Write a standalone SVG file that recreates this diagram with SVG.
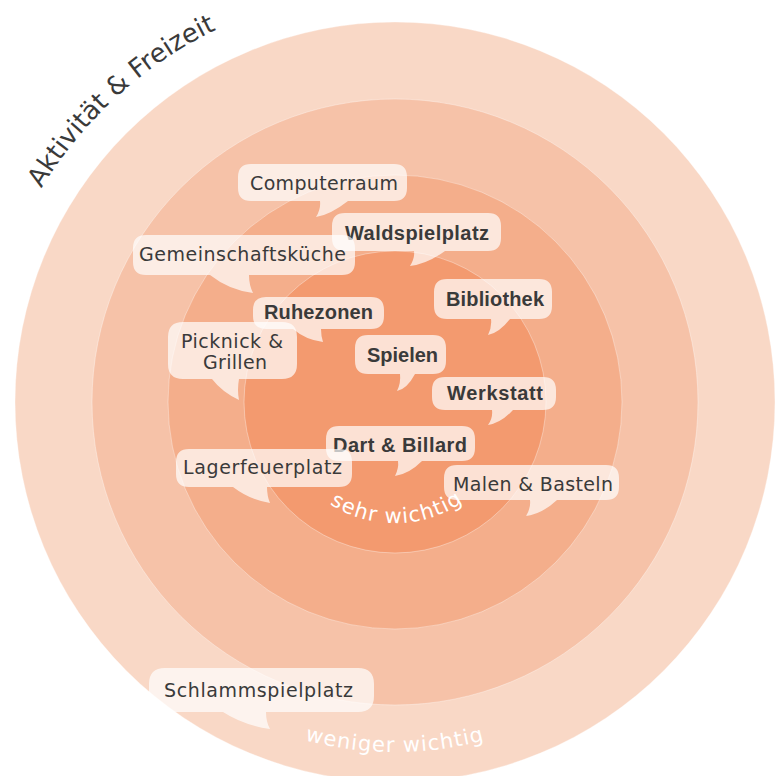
<svg xmlns="http://www.w3.org/2000/svg" width="784" height="776" viewBox="0 0 784 776">
<style>
.ring{stroke:#ffffff;stroke-opacity:0.35;stroke-width:1}
.bub{fill:#ffffff;fill-opacity:0.7}
.lbl{font-family:"DejaVu Sans","Liberation Sans",sans-serif;font-size:19px;fill:#3a3a3a;text-anchor:middle}
.b{font-family:"Liberation Sans","DejaVu Sans",sans-serif;font-weight:bold;font-size:20px}
.arc{font-family:"DejaVu Sans","Liberation Sans",sans-serif;fill:#ffffff;font-size:21px;text-anchor:middle}
</style>
<defs>
<path id="arcTitle" d="M -11.7,330.3 A 413 413 0 0 1 351.8,-8.7"/>
<path id="arcSehr" d="M 275.8,423 A 121 121 0 0 0 514.2,423"/>
<path id="arcWeniger" d="M 91.9,577 A 350 350 0 0 0 698.1,577"/>
</defs>
<rect width="784" height="776" fill="#ffffff"/>
<g id="rings">
<circle class="ring" cx="395" cy="402" r="380" fill="#F9D8C6"/>
<circle class="ring" cx="395" cy="402" r="303" fill="#F6C2A8"/>
<circle class="ring" cx="395" cy="402" r="227" fill="#F4AE8B"/>
<circle class="ring" cx="395" cy="402" r="151" fill="#F39A6F"/>
</g>
<g id="title">
<text font-family="DejaVu Sans, Liberation Sans, sans-serif" font-size="26" fill="#3a3a3a" text-anchor="middle"><textPath href="#arcTitle" startOffset="51%">Aktivität &amp; Freizeit</textPath></text>
</g>
<g id="scale-labels">
<text class="arc" letter-spacing="1.2"><textPath href="#arcSehr" startOffset="50.6%">sehr wichtig</textPath></text>
<text class="arc" letter-spacing="1.1"><textPath href="#arcWeniger" startOffset="50%">weniger wichtig</textPath></text>
</g>
<g id="computerraum">
<path class="bub" d="M251,164 H394 Q407,164 407,177 V188 Q407,201 394,201 H348 Q330,215 316,217 Q321,209 320,201 H251 Q238,201 238,188 V177 Q238,164 251,164 Z"/>
<text class="lbl" x="324" y="190" textLength="148" lengthAdjust="spacing">Computerraum</text>
</g>
<g id="waldspielplatz">
<path class="bub" d="M345,213 H488 Q501,213 501,226 V238 Q501,251 488,251 H445 Q427,264 410,266 Q415,258 414,251 H345 Q332,251 332,238 V226 Q332,213 345,213 Z"/>
<text class="lbl b" x="417" y="240" textLength="144" lengthAdjust="spacing">Waldspielplatz</text>
</g>
<g id="gemeinschaftskueche">
<path class="bub" d="M146,235 H342 Q355,235 355,248 V262 Q355,275 342,275 H249 Q249,285 253,293 Q229,290 210,275 H146 Q133,275 133,262 V248 Q133,235 146,235 Z"/>
<text class="lbl" x="242.5" y="261" textLength="207" lengthAdjust="spacing">Gemeinschaftsküche</text>
</g>
<g id="ruhezonen">
<path class="bub" d="M266,297 H371 Q384,297 384,310 V316 Q384,329 371,329 H321 Q321,336 323,342 Q306,340 293,329 H266 Q253,329 253,316 V310 Q253,297 266,297 Z"/>
<text class="lbl b" x="318.5" y="319" textLength="109" lengthAdjust="spacing">Ruhezonen</text>
</g>
<g id="picknick">
<path class="bub" d="M183,322 H282 Q297,322 297,337 V364 Q297,379 282,379 H239 Q237,390 239,400 Q222,392 212,379 H183 Q168,379 168,364 V337 Q168,322 183,322 Z"/>
<text class="lbl" x="232" y="348" textLength="102" lengthAdjust="spacing">Picknick &amp;</text>
<text class="lbl" x="235" y="369" textLength="64" lengthAdjust="spacing">Grillen</text>
</g>
<g id="bibliothek">
<path class="bub" d="M447,279 H539 Q552,279 552,292 V306 Q552,319 539,319 H510 Q499,333 488,335 Q492,327 491,319 H447 Q434,319 434,306 V292 Q434,279 447,279 Z"/>
<text class="lbl b" x="495" y="306" textLength="98" lengthAdjust="spacing">Bibliothek</text>
</g>
<g id="spielen">
<path class="bub" d="M368,335 H433 Q446,335 446,348 V361 Q446,374 433,374 H415 Q407,389 397,391 Q401,383 400,374 H368 Q355,374 355,361 V348 Q355,335 368,335 Z"/>
<text class="lbl b" x="402.5" y="362" textLength="71" lengthAdjust="spacing">Spielen</text>
</g>
<g id="werkstatt">
<path class="bub" d="M445,377 H543 Q556,377 556,390 V397 Q556,410 543,410 H513 Q501,423 488,425 Q493,418 492,410 H445 Q432,410 432,397 V390 Q432,377 445,377 Z"/>
<text class="lbl b" x="495" y="400" textLength="96" lengthAdjust="spacing">Werkstatt</text>
</g>
<g id="dart-billard">
<path class="bub" d="M339,426 H462 Q475,426 475,439 V448 Q475,461 462,461 H422 Q409,474 395,476 Q399,468 398,461 H339 Q326,461 326,448 V439 Q326,426 339,426 Z"/>
<text class="lbl b" x="400" y="452" textLength="134" lengthAdjust="spacing">Dart &amp; Billard</text>
</g>
<g id="lagerfeuerplatz">
<path class="bub" d="M189,449 H339 Q352,449 352,462 V474 Q352,487 339,487 H267 Q267,496 270,503 Q250,500 233,487 H189 Q176,487 176,474 V462 Q176,449 189,449 Z"/>
<text class="lbl" x="262.5" y="474" textLength="159" lengthAdjust="spacing">Lagerfeuerplatz</text>
</g>
<g id="malen-basteln">
<path class="bub" d="M457,465 H606 Q619,465 619,478 V487 Q619,500 606,500 H557 Q542,514 526,516 Q531,508 530,500 H457 Q444,500 444,487 V478 Q444,465 457,465 Z"/>
<text class="lbl" x="533" y="491" textLength="160" lengthAdjust="spacing">Malen &amp; Basteln</text>
</g>
<g id="schlammspielplatz">
<path class="bub" d="M165,668 H358 Q374,668 374,684 V696 Q374,712 358,712 H266 Q266,722 270,729 Q243,725 223,712 H165 Q149,712 149,696 V684 Q149,668 165,668 Z"/>
<text class="lbl" x="258.5" y="697" textLength="189" lengthAdjust="spacing">Schlammspielplatz</text>
</g>
</svg>
